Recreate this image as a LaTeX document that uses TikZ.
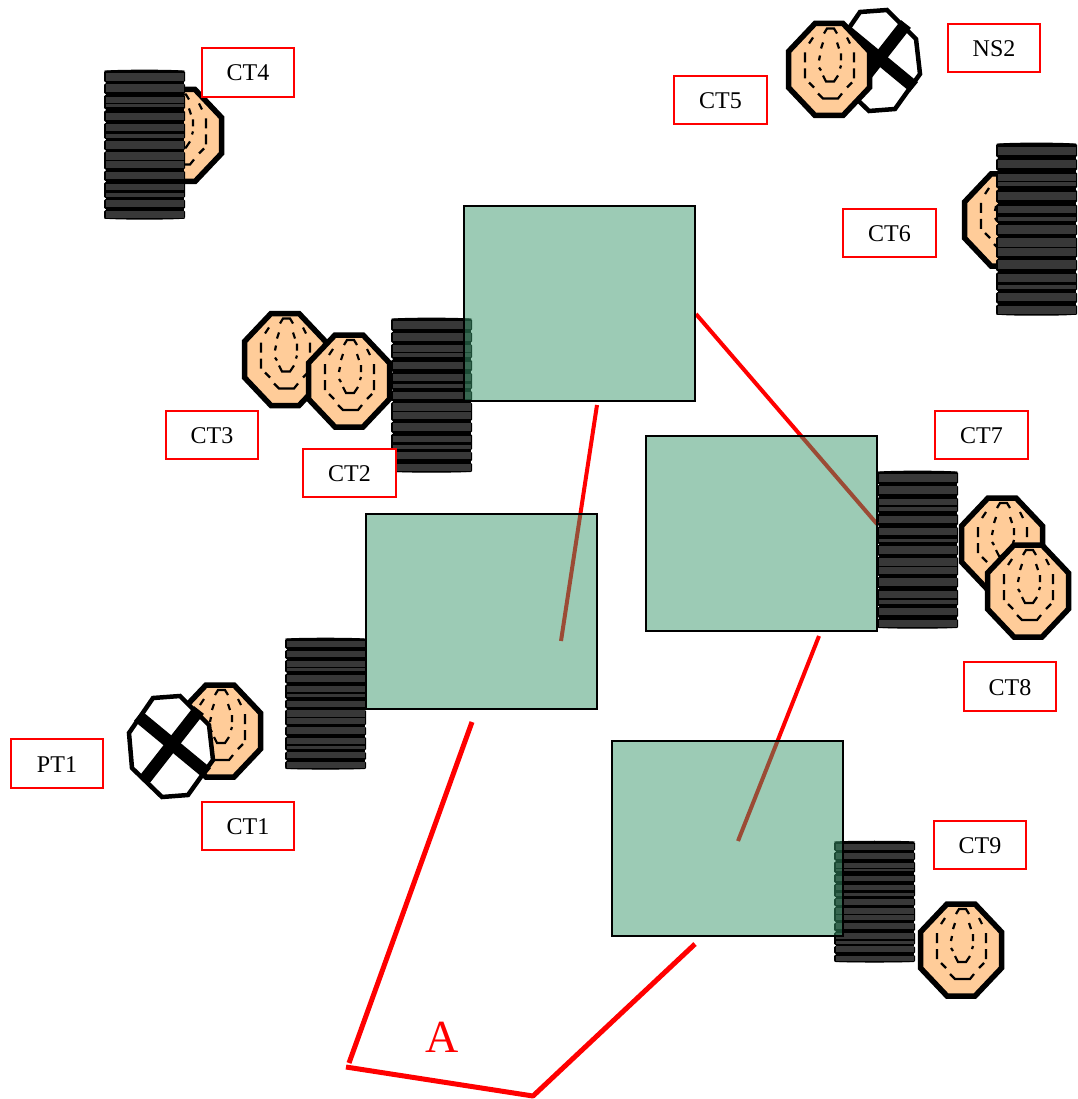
\documentclass[tikz,border=0pt]{standalone}
\usepackage{fontspec}
\setmainfont{Liberation Serif}
\definecolor{ctorange}{HTML}{FFCC99}
\definecolor{boxgreen}{HTML}{39976B}
\definecolor{diskgrey}{HTML}{383838}
\tikzset{
  x=1pt,y=-1pt,
  tag/.style={draw=red,line width=2pt,fill=white,minimum width=92.5pt,minimum height=48.5pt,inner sep=0pt,text height=17pt,text depth=0pt,font=\fontsize{24}{26}\selectfont},
  core/.style={draw=black,line width=1.8pt,fill=boxgreen,fill opacity=.5,draw opacity=1},
  redline/.style={draw=red,line width=4pt},
  redthick/.style={draw=red,line width=5pt,line join=bevel},
  octo/.style={draw=black,line width=5.5pt,line join=miter},
  winding/.style={draw=black,line width=2.2pt}
}
\newcommand{\CtShape}[2]{%
  \begin{scope}[shift={(#1,#2)}]
    \path[octo,fill=ctorange] (-14,-46)--(14,-46)--(40.5,-18)--(40.5,18)--(14,46)--(-14,46)--(-40.5,18)--(-40.5,-18)--cycle;
    \path[winding] (-16,-32)--(-20,-26) (-24,-17)--(-24,-7) (-24,-1)--(-24,9) (-20,13)--(-15,18)
      (-11,24)--(-6,29)--(9,29)--(13,24) (18,18)--(23,13) (25,9)--(25,-1) (25,-7)--(25,-17) (21,-26)--(18,-32);
    \path[winding] (-5,-36)--(-2,-41)--(5,-41)--(8,-36) (-6,-27)--(-8,-21) (-9,-14)--(-10,-9) (-10,-2)--(-8,1)
      (-6,6)--(-3,12)--(5,12)--(9,6) (11,-1)--(12,-4) (12,-9)--(12,-16) (10,-21)--(8,-27);
  \end{scope}}
\newcommand{\VtShape}[2]{%
  \begin{scope}[shift={(#1,#2)}]
    \path[octo,fill=white,line width=4.5pt] (-18,-49)--(9,-51)--(38,-22)--(42,13)--(17,48)--(-9,50)--(-39,21)--(-42,-14)--cycle;
    \draw[black,line width=12.5pt] (-33,-31)--(36,26);
    \draw[black,line width=12.5pt] (28,-37)--(-26,32);
  \end{scope}}
\newcommand{\DiskGroup}[2]{\fill[black,rounded corners=1.5pt] (0,#1) rectangle (81,#2);}
\newcommand{\DiskStrip}[2]{\fill[diskgrey] (1.5,#1) rectangle (79.5,#2);}
\newcommand{\StackShape}[3]{%
  \pgfmathsetmacro{\StackTop}{#2-35*#3/465}%
  \begin{scope}[shift={(#1,\StackTop)},yscale=#3/465]
    \fill[black] (40.5,38) ellipse [x radius=40.5,y radius=4];
    \fill[black] (40.5,498) ellipse [x radius=40.5,y radius=4];
    \fill[black] (1.5,40) rectangle (79.5,495);
    \DiskGroup{37}{74}\DiskStrip{45}{68}
    \DiskGroup{77}{110}\DiskStrip{80}{103}
    \DiskGroup{113}{158}\DiskStrip{118}{137}\DiskStrip{141}{152}
    \DiskGroup{161}{197}\DiskStrip{168}{190}
    \DiskGroup{200}{251}\DiskStrip{205}{225}\DiskStrip{235}{246}
    \DiskGroup{254}{286}\DiskStrip{258}{280}
    \DiskGroup{289}{346}\DiskStrip{292}{315}\DiskStrip{320}{340}
    \DiskGroup{349}{382}\DiskStrip{352}{375}
    \DiskGroup{385}{435}\DiskStrip{390}{410}\DiskStrip{418}{430}
    \DiskGroup{438}{469}\DiskStrip{440}{462}
    \DiskGroup{472}{500}\DiskStrip{475}{497}
  \end{scope}}
\begin{document}
\begin{tikzpicture}
\useasboundingbox (0,0) rectangle (1077,1099);
% instrument transformers
\CtShape{181}{135.5}
\StackShape{104}{70}{149}
\VtShape{878}{61}
\CtShape{829}{69.5}
\CtShape{1005}{220}
\StackShape{996}{143}{172}
\CtShape{285}{359.5}
\CtShape{349}{381}
\StackShape{391}{318}{154}
\StackShape{877}{471}{157}
\CtShape{1002}{544}
\CtShape{1028}{591}
\StackShape{285}{638}{131}
\CtShape{220}{731}
\VtShape{171}{747}
\StackShape{834}{841}{121}
\CtShape{961}{950}
% zone boundary
\coordinate (a1) at (696,314);
\coordinate (a2) at (877,524);
\coordinate (b1) at (597,405);
\coordinate (b2) at (561,641);
\coordinate (c1) at (819,636);
\coordinate (c2) at (738,841);
\coordinate (d1) at (472,722);
\coordinate (d2) at (349,1063);
\coordinate (e1) at (346,1067);
\coordinate (e2) at (533,1096);
\coordinate (e3) at (695,944);
\draw[redline] (a1)--(a2);
\draw[redline] (b1)--(b2);
\draw[redline] (c1)--(c2);
\draw[redthick] (d1)--(d2);
\draw[redthick] (e1)--(e2)--(e3);
% transformers
\path[core] (464,206) rectangle (695,401);
\path[core] (646,436) rectangle (877,631);
\path[core] (366,514) rectangle (597,709);
\path[core] (612,741) rectangle (843,936);
% labels
\node[tag] (ct4) at (248,72.5) {CT4};
\node[tag] (ns2) at (994,48) {NS2};
\node[tag] (ct5) at (720.5,100) {CT5};
\node[tag] (ct6) at (889.5,233) {CT6};
\node[tag] (ct3) at (212,435) {CT3};
\node[tag] (ct2) at (349.5,473) {CT2};
\node[tag] (ct7) at (981.5,435) {CT7};
\node[tag] (ct8) at (1010,686.5) {CT8};
\node[tag] (ct9) at (980,845) {CT9};
\node[tag] (pt1) at (57,763.5) {PT1};
\node[tag] (ct1) at (248,826) {CT1};
\node[text=red,font=\fontsize{46}{48}\selectfont,inner sep=0pt] (zone) at (442,1037) {A};
\end{tikzpicture}
\end{document}
